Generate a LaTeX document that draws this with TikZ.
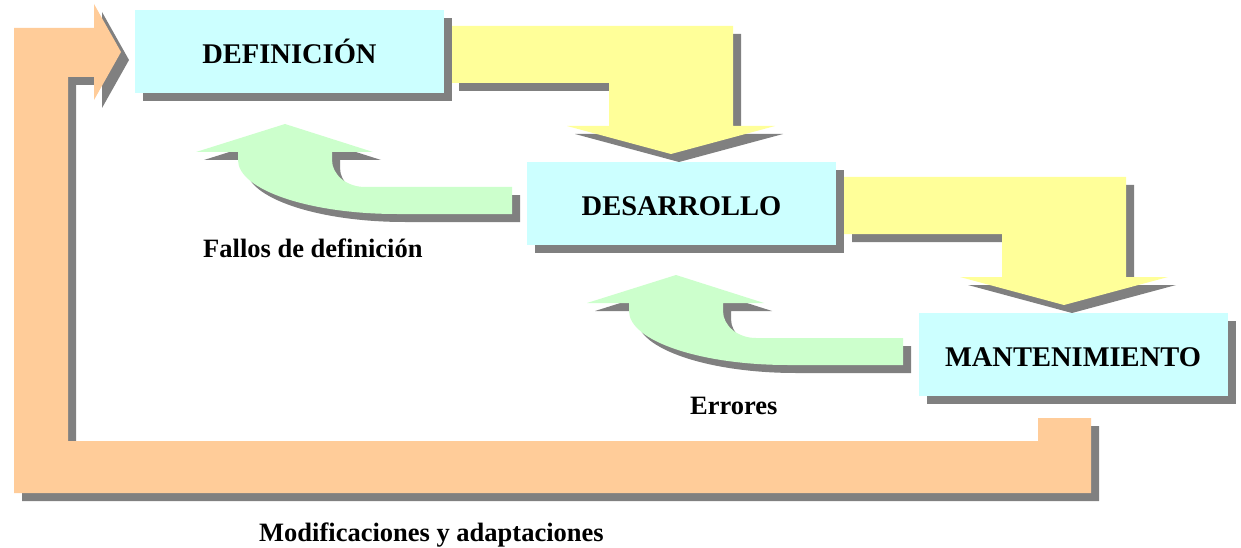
\documentclass[tikz,border=0pt]{standalone}
\usepackage{fontspec}
\setmainfont{Liberation Serif}
\usetikzlibrary{shadows}
\definecolor{boxc}{HTML}{CCFFFF}
\definecolor{yel}{HTML}{FFFF99}
\definecolor{grn}{HTML}{CCFFCC}
\definecolor{org}{HTML}{FFCC99}
\definecolor{shd}{HTML}{808080}
\begin{document}
\begin{tikzpicture}[x=1pt,y=-1pt,
  phase/.style={fill=boxc, minimum width=309pt, minimum height=83pt, inner sep=0pt,
    text height=24pt, text depth=0pt, font=\bfseries\fontsize{28.5}{30}\selectfont,
    general shadow={fill=shd, shadow xshift=8pt, shadow yshift=-8pt}},
  lbl/.style={font=\bfseries\fontsize{26.5}{28}\selectfont, inner sep=0pt, anchor=base west},
  shadowed/.style={fill=shd, shift={(8,8)}},
  ypath/.style={insert path={(0,0) -- (282,0) -- (282,100) -- (324,100) -- (220,128)
      -- (116,100) -- (158,100) -- (158,57) -- (0,57) -- cycle}},
  gpath/.style={insert path={(-89,28) -- (0,0) -- (88,28) -- (47,28) -- (47,36)
      .. controls (47,50.9) and (61.8,63) .. (80,63) -- (227,63) -- (227,90) -- (112,90)
      .. controls (24.2,90) and (-47,65.8) .. (-47,36) -- (-47,28) -- cycle}},
  opath/.style={insert path={(1091,418) -- (1091,493) -- (14,493) -- (14,28) -- (94,28)
      -- (94,4) -- (121,52) -- (94,100) -- (94,77) -- (68,77) -- (68,441) -- (1038,441)
      -- (1038,418) -- cycle}}]
\fill[white] (0,0) rectangle (1241,548);
\useasboundingbox (0,0) rectangle (1241,548);
% yellow arrows
\begin{scope}[shift={(451,26)}]
  \fill[shadowed, ypath];
  \fill[yel, ypath];
\end{scope}
\begin{scope}[shift={(844,177)}]
  \fill[shadowed, ypath];
  \fill[yel, ypath];
\end{scope}
% phase boxes
\node[phase] (def) at (289.5,51.5) {DEFINICIÓN};
\node[phase] (des) at (681.5,203.5) {DESARROLLO};
\node[phase] (man) at (1073,354) {MANTENIMIENTO};
% green feedback arrows
\begin{scope}[shift={(285,124)}]
  \fill[shadowed, gpath];
  \fill[grn, gpath];
\end{scope}
\begin{scope}[shift={(676,275)}]
  \fill[shadowed, gpath];
  \fill[grn, gpath];
\end{scope}
% orange loop arrow
\fill[shadowed, opath];
\fill[org, opath];
% labels
\node[lbl] (fallos) at (203,257) {Fallos de definición};
\node[lbl] (errores) at (690,414) {Errores};
\node[lbl] (modif) at (259,541) {Modificaciones y adaptaciones};
\end{tikzpicture}
\end{document}
